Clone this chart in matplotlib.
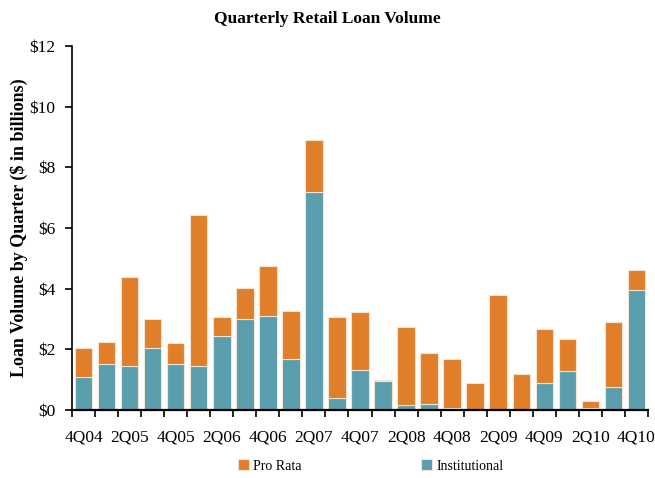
import matplotlib
matplotlib.use("Agg")
import matplotlib.pyplot as plt
import numpy as np

quarters = ["4Q04", "1Q05", "2Q05", "3Q05", "4Q05", "1Q06", "2Q06", "3Q06", "4Q06",
            "1Q07", "2Q07", "3Q07", "4Q07", "1Q08", "2Q08", "3Q08", "4Q08", "1Q09",
            "2Q09", "3Q09", "4Q09", "1Q10", "2Q10", "3Q10", "4Q10"]
institutional = [1.08, 1.52, 1.45, 2.06, 1.52, 1.45, 2.44, 2.99, 3.09, 1.68, 7.18, 0.40,
                 1.32, 0.95, 0.15, 0.20, 0.07, 0.0, 0.0, 0.0, 0.90, 1.28, 0.06, 0.76, 3.96]
total = [2.06, 2.24, 4.38, 2.99, 2.20, 6.44, 3.08, 4.02, 4.75, 3.27, 8.90, 3.08,
         3.22, 1.00, 2.72, 1.88, 1.69, 0.90, 3.78, 1.19, 2.67, 2.34, 0.31, 2.90, 4.62]
pro_rata = [t - i for t, i in zip(total, institutional)]

plt.rcParams["font.family"] = ["Liberation Serif", "DejaVu Serif"]

orange = "#E07E2A"
teal = "#5A9EAD"

fig = plt.figure(figsize=(6.55, 4.78), dpi=100)
ax = fig.add_axes([72 / 655, 1 - 410 / 478, 576 / 655, 364 / 478])

x = np.arange(len(quarters))
ax.bar(x, institutional, width=0.76, color=teal, edgecolor="#f3e3d3", linewidth=0.8,
       label="Institutional")
ax.bar(x, pro_rata, bottom=institutional, width=0.76, color=orange, edgecolor="#f3e3d3",
       linewidth=0.8, label="Pro Rata")

ax.set_xlim(-0.5, len(quarters) - 0.5)
ax.set_ylim(0, 12)
ax.set_yticks(range(0, 13, 2))
ax.set_yticklabels([f"${v}" for v in range(0, 13, 2)], fontsize=12.5)

ax.set_xticks(x[::2])
ax.set_xticklabels(quarters[::2], fontsize=12.5)
ax.tick_params(axis="x", length=0, pad=14)
ax.set_xticks(np.arange(-0.5, len(quarters), 1), minor=True)
ax.tick_params(axis="x", which="minor", length=5, width=1.2, direction="out")
ax.tick_params(axis="y", length=5, width=1.2, direction="out", pad=7)

for side in ["top", "right"]:
    ax.spines[side].set_visible(False)
ax.spines["left"].set_linewidth(1.2)
ax.spines["bottom"].set_linewidth(1.6)

ax.set_ylabel("Loan Volume by Quarter ($ in billions)", fontsize=13, fontweight="bold")
ax.yaxis.set_label_coords(-0.077, 0.5)
fig.suptitle("Quarterly Retail Loan Volume", fontsize=12.5, fontweight="bold", y=0.978)

handles, labels = ax.get_legend_handles_labels()
fig.legend(handles[::-1], labels[::-1], loc="center", bbox_to_anchor=(0.566, 0.025),
           ncol=2, frameon=False, fontsize=10, handlelength=0.8, handleheight=0.8,
           handletextpad=0.3, columnspacing=8.6)

fig.savefig("out.png", dpi=100)
